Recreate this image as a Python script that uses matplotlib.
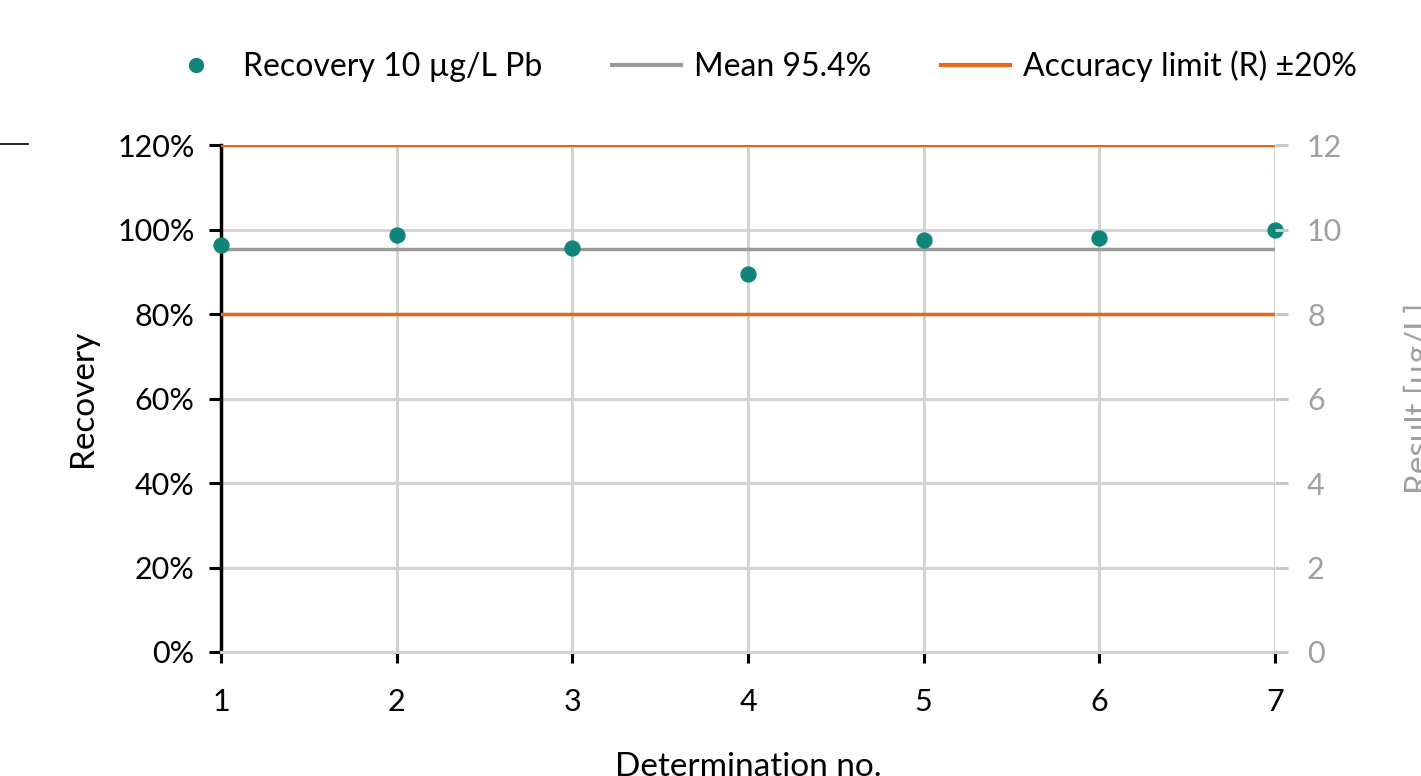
import matplotlib.pyplot as plt
from matplotlib.lines import Line2D
from matplotlib.ticker import FuncFormatter

plt.rcParams['font.family'] = ['Lato', 'DejaVu Sans']

determinations = [1, 2, 3, 4, 5, 6, 7]
recovery = [96.4, 98.8, 95.7, 89.5, 97.6, 98.0, 99.9]
mean_recovery = 95.4
limit_low, limit_high = 80, 120

teal = '#12857a'
orange = '#e8681a'
grey_line = '#9a9a9a'
grid_col = '#d3d3d3'

fig = plt.figure(figsize=(14.21, 7.76), dpi=100)
ax = fig.add_axes([0.1555, 0.1598, 0.7418, 0.6533])

ax.set_xlim(1, 7)
ax.set_ylim(0, 120)
ax.set_xticks(determinations)
ax.set_yticks(range(0, 121, 20))
ax.yaxis.set_major_formatter(FuncFormatter(lambda v, p: f'{v:.0f}%'))
ax.grid(True, color=grid_col, linewidth=2.2, zorder=0)
ax.set_axisbelow(True)

for s in ['top', 'right']:
    ax.spines[s].set_visible(False)
ax.spines['bottom'].set_color(grid_col)
ax.spines['bottom'].set_linewidth(2.2)
ax.spines['left'].set_color('black')
ax.spines['left'].set_linewidth(2.5)
ax.tick_params(axis='y', length=9, width=2.2, color='black', labelsize=22, pad=10)
ax.tick_params(axis='x', length=8, width=2.2, color='black', labelsize=22, pad=18)

ax.axhline(limit_high, color=orange, linewidth=2.5, zorder=3)
ax.axhline(limit_low, color=orange, linewidth=2.5, zorder=3)
ax.axhline(mean_recovery, color=grey_line, linewidth=2.5, zorder=3)
ax.scatter(determinations, recovery, s=115, color=teal, zorder=5, clip_on=False)

ax.set_ylabel('Recovery', fontsize=24, labelpad=14)
ax.set_xlabel('Determination no.', fontsize=24, labelpad=26)

ax2 = ax.twinx()
ax2.set_ylim(0, 12)
ax2.set_yticks(range(0, 13, 2))
for s in ['top', 'left', 'bottom', 'right']:
    ax2.spines[s].set_visible(False)
ax2.tick_params(axis='y', length=9, width=2.2, color='#c8c8c8', labelcolor='#a0a0a0',
                labelsize=22, pad=14)
ax2.set_ylabel('Result [µg/L]', fontsize=24, color='#a0a0a0', labelpad=44)

handles = [
    Line2D([], [], marker='o', linestyle='none', color=teal, markersize=10),
    Line2D([], [], color=grey_line, linewidth=3),
    Line2D([], [], color=orange, linewidth=3),
]
labels = ['Recovery 10 µg/L Pb', 'Mean 95.4%', 'Accuracy limit (R) ±20%']
fig.legend(handles, labels, loc='center', bbox_to_anchor=(0.534, 0.915), ncol=3,
           frameon=False, fontsize=23, handlelength=2.15, handletextpad=0.4,
           columnspacing=2.2)

fig.add_artist(Line2D([0.0, 0.02], [0.814, 0.814], color='black', linewidth=1.2))

fig.savefig('out.png', dpi=100)
